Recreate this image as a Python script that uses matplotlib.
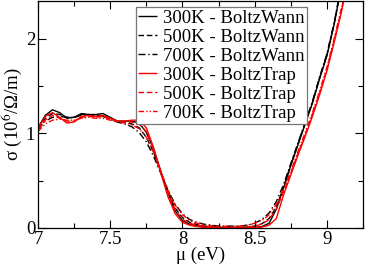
import matplotlib
matplotlib.use("Agg")
import matplotlib.pyplot as plt
import numpy as np
from matplotlib.ticker import MultipleLocator

mu = [7.00, 7.05, 7.10, 7.15, 7.20, 7.25, 7.30, 7.35, 7.40, 7.45,
      7.50, 7.55, 7.60, 7.65, 7.70, 7.75, 7.80, 7.85, 7.90, 7.95,
      8.00, 8.05, 8.10, 8.15, 8.20, 8.25, 8.30, 8.35, 8.40, 8.45,
      8.50, 8.55, 8.60, 8.65, 8.70, 8.75, 8.80, 8.85, 8.90, 8.95,
      9.00, 9.05, 9.10, 9.15]

bw300 = [1.06, 1.19, 1.25, 1.22, 1.16, 1.17, 1.21, 1.20, 1.20, 1.21,
         1.17, 1.13, 1.13, 1.13, 1.11, 1.01, 0.84, 0.60, 0.37, 0.18,
         0.08, 0.04, 0.02, 0.01, 0.005, 0.003, 0.002, 0.002, 0.002, 0.003,
         0.006, 0.015, 0.05, 0.20, 0.42, 0.66, 0.88, 1.10, 1.32, 1.58,
         1.82, 2.15, 2.55, 2.95]
bw500 = [1.05, 1.16, 1.21, 1.20, 1.17, 1.17, 1.20, 1.20, 1.19, 1.19,
         1.16, 1.13, 1.12, 1.10, 1.06, 0.96, 0.80, 0.59, 0.38, 0.21,
         0.11, 0.06, 0.035, 0.02, 0.012, 0.008, 0.006, 0.006, 0.007, 0.01,
         0.02, 0.045, 0.10, 0.22, 0.43, 0.67, 0.89, 1.11, 1.33, 1.59,
         1.83, 2.16, 2.56, 2.96]
bw700 = [1.04, 1.13, 1.17, 1.18, 1.17, 1.17, 1.19, 1.19, 1.18, 1.18,
         1.15, 1.12, 1.10, 1.07, 1.01, 0.91, 0.76, 0.58, 0.40, 0.25,
         0.15, 0.09, 0.06, 0.04, 0.03, 0.02, 0.02, 0.02, 0.02, 0.03,
         0.05, 0.09, 0.16, 0.28, 0.46, 0.68, 0.90, 1.12, 1.34, 1.60,
         1.84, 2.17, 2.57, 2.97]
bt300 = [1.05, 1.18, 1.22, 1.17, 1.11, 1.12, 1.18, 1.19, 1.18, 1.19,
         1.16, 1.13, 1.13, 1.14, 1.14, 1.06, 0.85, 0.58, 0.33, 0.15,
         0.06, 0.03, 0.015, 0.008, 0.004, 0.002, 0.001, 0.001, 0.001, 0.002,
         0.004, 0.01, 0.03, 0.10, 0.35, 0.56, 0.77, 0.97, 1.18, 1.41,
         1.66, 1.96, 2.28, 2.65]
bt500 = [1.04, 1.14, 1.19, 1.16, 1.13, 1.13, 1.17, 1.18, 1.17, 1.18,
         1.15, 1.13, 1.12, 1.12, 1.10, 1.02, 0.84, 0.60, 0.37, 0.19,
         0.09, 0.05, 0.03, 0.02, 0.012, 0.008, 0.006, 0.006, 0.007, 0.01,
         0.02, 0.04, 0.09, 0.20, 0.38, 0.58, 0.79, 0.99, 1.20, 1.43,
         1.68, 1.98, 2.30, 2.67]
bt700 = [1.02, 1.10, 1.14, 1.15, 1.14, 1.14, 1.16, 1.17, 1.16, 1.16,
         1.14, 1.12, 1.11, 1.09, 1.05, 0.96, 0.80, 0.60, 0.40, 0.24,
         0.14, 0.08, 0.05, 0.035, 0.025, 0.02, 0.018, 0.018, 0.02, 0.03,
         0.05, 0.08, 0.14, 0.25, 0.41, 0.60, 0.81, 1.01, 1.22, 1.45,
         1.70, 2.00, 2.32, 2.69]

labels = ["300K - BoltzWann", "500K - BoltzWann", "700K - BoltzWann",
          "300K - BoltzTrap", "500K - BoltzTrap", "700K - BoltzTrap"]

plt.rcParams['font.family'] = ['Liberation Serif', 'DejaVu Serif']
plt.rcParams['mathtext.fontset'] = 'stix'

FS = 13.5
fig = plt.figure(figsize=(3.66, 2.65), dpi=100)
ax = fig.add_axes([38/366, 37/265, 325/366, 227/265])

series = [bw300, bw500, bw700, bt300, bt500, bt700]
colors = ['black'] * 3 + ['#ff0000'] * 3
styles = [(0, ()), (0, (4, 2)), (0, (5, 2, 1, 2)),
          (0, ()), (0, (4, 2)), (0, (4, 1.5, 1, 1.5, 1, 1.5))]
for ys, c, ls, lab in zip(series, colors, styles, labels):
    ax.plot(mu, ys, color=c, linestyle=ls, lw=1.0, label=lab)

ax.set_xlim(7, 9.25)
ax.set_ylim(0, 2.4)
ax.xaxis.set_minor_locator(MultipleLocator(0.25))
ax.yaxis.set_minor_locator(MultipleLocator(0.5))
ax.set_xticks([7, 7.5, 8, 8.5, 9])
ax.set_xticklabels(["7", "7.5", "8", "8.5", "9"])
ax.set_yticks([0, 1, 2])
ax.set_yticklabels(["0", "1", "2"])
ax.tick_params(which='both', direction='in', top=True, right=True,
               labelsize=FS, width=0.8, pad=2)
ax.tick_params(which='major', length=6)
ax.tick_params(which='minor', length=3.5)
for s in ax.spines.values():
    s.set_linewidth(0.9)

ax.set_xlabel(r"μ (eV)", fontsize=FS, labelpad=-1)
ax.set_ylabel(r"σ (10$^{6}$/Ω/m)", fontsize=FS, labelpad=1)

leg = ax.legend(loc='upper left', bbox_to_anchor=(0.30, 0.975), fontsize=FS,
                handlelength=1.0, handletextpad=0.3, borderpad=0.15,
                labelspacing=0.1, fancybox=False, framealpha=1,
                edgecolor='#777777', borderaxespad=0)
leg.get_frame().set_linewidth(0.9)

fig.savefig("out.png", dpi=100)
